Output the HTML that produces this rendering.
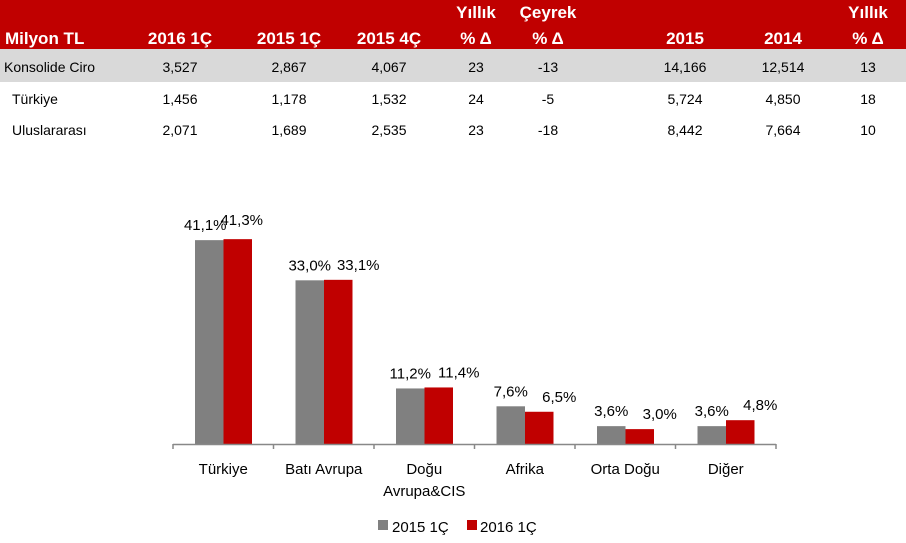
<!DOCTYPE html>
<html><head><meta charset="utf-8"><style>
html,body{margin:0;padding:0;background:#fff;}
svg{display:block;font-family:"Liberation Sans",Arial,sans-serif;}
</style></head><body>
<svg id="c" width="906" height="543" viewBox="0 0 906 543">
<rect x="0" y="0" width="906" height="49" fill="#c00000"/>
<rect x="0" y="49" width="906" height="33" fill="#d9d9d9"/>
<g id="tbl"></g>
<g id="chart"></g>
</svg>
<script>
const NS="http://www.w3.org/2000/svg";
const svg=document.getElementById('c');
const tbl=document.getElementById('tbl');
const chart=document.getElementById('chart');
function mk(tag,attrs,parent,text){const e=document.createElementNS(NS,tag);for(const k in attrs)e.setAttribute(k,attrs[k]);if(text!==undefined)e.textContent=text;parent.appendChild(e);return e;}

// Table data
const colCenters=[180,289,389,476,548,685,783,868];
const headerTop=["","","","Yıllık","Çeyrek","","","Yıllık"];
const headerBottom=["2016 1Ç","2015 1Ç","2015 4Ç","% Δ","% Δ","2015","2014","% Δ"];
const rowLabels=["Konsolide Ciro","Türkiye","Uluslararası"];
const rowValues=[
 ["3,527","2,867","4,067","23","-13","14,166","12,514","13"],
 ["1,456","1,178","1,532","24","-5","5,724","4,850","18"],
 ["2,071","1,689","2,535","23","-18","8,442","7,664","10"]
];
const rowY=[72,104,135];

let t=mk('text',{x:5,y:44,fill:'#fff','font-size':17,'font-weight':'bold'},tbl,'Milyon TL');

colCenters.forEach((cx,i)=>{
 if(headerTop[i]){const a=mk('text',{x:cx,y:18,fill:'#fff','font-size':17,'font-weight':'bold','text-anchor':'middle'},tbl,headerTop[i]);
  }
 const b=mk('text',{x:cx,y:44,fill:'#fff','font-size':17,'font-weight':'bold','text-anchor':'middle'},tbl,headerBottom[i]);
 
});
rowLabels.forEach((lab,r)=>{
 const l=mk('text',{x:r===0?4:12,y:rowY[r],fill:'#000','font-size':14},tbl,lab);
 
 rowValues[r].forEach((v,i)=>{
  const c=mk('text',{x:colCenters[i],y:rowY[r],fill:'#000','font-size':14,'text-anchor':'middle'},tbl,v);
  
 });
});

// Chart data
const categories=[["Türkiye"],["Batı Avrupa"],["Doğu","Avrupa&CIS"],["Afrika"],["Orta Doğu"],["Diğer"]];
const series2015=[41.1,33.0,11.2,7.6,3.6,3.6];
const series2016=[41.3,33.1,11.4,6.5,3.0,4.8];
const labels2015=["41,1%","33,0%","11,2%","7,6%","3,6%","3,6%"];
const labels2016=["41,3%","33,1%","11,4%","6,5%","3,0%","4,8%"];

const x0=173,x1=776,baseY=444,pxPer=4.96;
const band=(x1-x0)/categories.length;
const xCat=i=>x0+i*band;
const yVal=v=>baseY-v*pxPer;
const bw=28.5;
const redDx=[4,20,20,20,20,20];

categories.forEach((cat,i)=>{
 const gx=xCat(i)+22, rx=gx+bw;
 const g=mk('rect',{x:gx,y:yVal(series2015[i]),width:bw,height:baseY-yVal(series2015[i]),fill:'#808080'},chart);
 
 const r=mk('rect',{x:rx,y:yVal(series2016[i]),width:bw,height:baseY-yVal(series2016[i]),fill:'#c00000'},chart);
 
 const gl=mk('text',{x:gx+bw/2-(i===0?4:0),y:yVal(series2015[i])-10,'font-size':15,'text-anchor':'middle',fill:'#000'},chart,labels2015[i]);
 
 const rl=mk('text',{x:rx+bw/2+redDx[i],y:yVal(series2016[i])-(i===0?14:10),'font-size':15,'text-anchor':'middle',fill:'#000'},chart,labels2016[i]);
 
 cat.forEach((line,k)=>{
  const cl=mk('text',{x:xCat(i)+band/2,y:474+k*22,'font-size':15,'text-anchor':'middle',fill:'#000'},chart,line);
  
 });
});
const ax=mk('line',{x1:x0,y1:baseY+0.5,x2:x1,y2:baseY+0.5,stroke:'#888','stroke-width':1.5},chart);

for(let i=0;i<=categories.length;i++){
 const tk=mk('line',{x1:xCat(i),y1:baseY,x2:xCat(i),y2:baseY+5,stroke:'#888','stroke-width':1.5},chart);
 
}
// legend
const lg=mk('g',{},chart);

const s1=mk('rect',{x:378,y:520,width:10,height:10,fill:'#808080'},lg);

const t1=mk('text',{x:392,y:532,'font-size':15,fill:'#000'},lg,'2015 1Ç');

const s2=mk('rect',{x:467,y:520,width:10,height:10,fill:'#c00000'},lg);

const t2=mk('text',{x:480,y:532,'font-size':15,fill:'#000'},lg,'2016 1Ç');

</script>
</body></html>
